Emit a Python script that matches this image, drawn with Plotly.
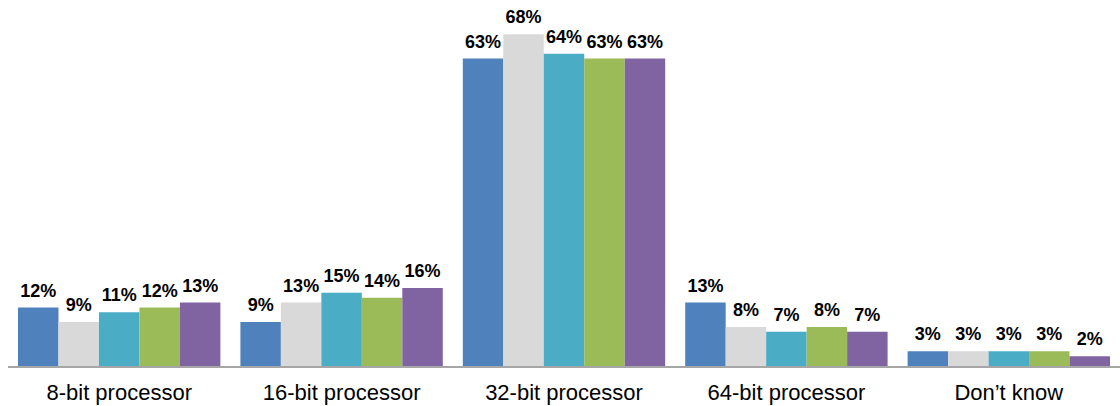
import plotly.graph_objects as go

categories = ["8-bit processor", "16-bit processor", "32-bit processor", "64-bit processor", "Don\u2019t know"]
series_a = [12, 9, 63, 13, 3]
series_b = [9, 13, 68, 8, 3]
series_c = [11, 15, 64, 7, 3]
series_d = [12, 14, 63, 8, 3]
series_e = [13, 16, 63, 7, 2]

colors = ["#4F81BD", "#D9D9D9", "#4BACC6", "#9BBB59", "#8064A2"]
all_series = [series_a, series_b, series_c, series_d, series_e]

LABEL_FONT = dict(family="Liberation Sans, Arial, sans-serif", size=18, color="#000000", weight="bold")
LABEL_LIFT = 0.8  # spacing (in axis units) between a bar top and its value label

fig = go.Figure()
for i, (vals, col) in enumerate(zip(all_series, colors)):
    fig.add_trace(go.Bar(
        x=categories,
        y=vals,
        offsetgroup=str(i),
        marker=dict(color=col, line=dict(width=0)),
        showlegend=False,
        hoverinfo="skip",
    ))
    # transparent spacer sitting on top of each bar, carrying the value label
    fig.add_trace(go.Bar(
        x=categories,
        y=[LABEL_LIFT] * len(vals),
        base=vals,
        offsetgroup=str(i),
        marker=dict(color="rgba(0,0,0,0)", line=dict(width=0)),
        text=[f"{v}%" for v in vals],
        textposition="outside",
        textfont=LABEL_FONT,
        cliponaxis=False,
        showlegend=False,
        hoverinfo="skip",
    ))

fig.update_layout(
    width=1120,
    height=406,
    margin=dict(l=8, r=0, t=0, b=40),
    paper_bgcolor="white",
    plot_bgcolor="white",
    barmode="group",
    bargap=0.09,
    bargroupgap=0,
    xaxis=dict(
        showline=True,
        linecolor="#A6A6A6",
        linewidth=1.5,
        ticks="",
        showgrid=False,
        ticklabelstandoff=6,
        tickfont=dict(family="Liberation Sans, Arial, sans-serif", size=22, color="#000000"),
    ),
    yaxis=dict(
        range=[0, 75],
        visible=False,
        showgrid=False,
        zeroline=False,
    ),
)

fig.write_html("out.html")
